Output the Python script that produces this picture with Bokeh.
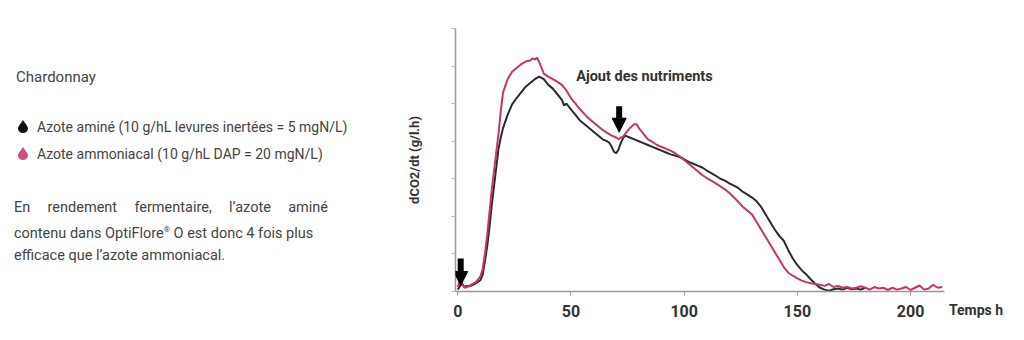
from bokeh.plotting import figure
from bokeh.models import Div, Label, Arrow, NormalHead, FixedTicker, Range1d
from bokeh.layouts import row
from bokeh.embed import file_html
from bokeh.resources import INLINE

# --- data ---
t_amine = [0, 1, 2, 3, 4, 5, 6, 8, 10, 11, 12, 13, 14, 15, 16, 17, 18, 19, 20, 22, 24, 26, 28, 30, 32, 34, 36, 38, 40,
           42, 44, 46, 47, 48, 50, 52, 54, 56, 58, 60, 62, 64, 66, 67, 68, 69, 70, 71, 72, 73, 74, 75, 76, 78, 80, 82,
           84, 86, 88, 90, 92, 94, 96, 98, 100, 102, 104, 106, 108, 110, 112, 114, 116, 118, 120, 122, 124, 126, 128,
           130, 132, 134, 136, 138, 140, 142, 144, 146, 148, 150, 152, 154, 156, 158, 160, 162, 164, 166, 168, 170,
           172, 174, 176, 178, 180]
v_amine = [0.05, 0.15, 0.2, 0.12, 0.15, 0.14, 0.16, 0.22, 0.3, 0.45, 0.8, 1.2, 1.7, 2.3, 2.8, 3.3, 3.8, 4.1, 4.35, 4.7,
           4.98, 5.15, 5.3, 5.45, 5.55, 5.65, 5.72, 5.65, 5.5, 5.4, 5.25, 5.1, 4.95, 5.0, 4.85, 4.7, 4.55, 4.45, 4.35,
           4.25, 4.15, 4.05, 4.0, 3.95, 3.85, 3.72, 3.68, 3.78, 3.95, 4.08, 4.15, 4.12, 4.1, 4.05, 4.0, 3.95, 3.9, 3.85,
           3.8, 3.75, 3.7, 3.65, 3.62, 3.58, 3.52, 3.45, 3.4, 3.35, 3.3, 3.22, 3.15, 3.08, 3.0, 2.95, 2.88, 2.82, 2.75,
           2.65, 2.58, 2.5, 2.4, 2.25, 2.05, 1.85, 1.65, 1.48, 1.35, 1.1, 0.88, 0.7, 0.56, 0.45, 0.32, 0.2, 0.1, 0.05,
           0.02, 0.06, 0.08, 0.05, 0.1, 0.06, 0.08, 0.05, 0.1]

t_ammo = [0, 1, 2, 3, 4, 5, 6, 8, 10, 11, 12, 13, 14, 15, 16, 17, 18, 19, 20, 22, 24, 26, 28, 30, 32, 33, 34, 35, 36,
          37, 38, 40, 42, 44, 46, 48, 50, 52, 54, 56, 58, 60, 62, 64, 66, 68, 70, 71, 72, 73, 74, 76, 78, 79, 80, 82,
          84, 86, 88, 90, 92, 94, 96, 98, 100, 102, 104, 106, 108, 110, 112, 114, 116, 118, 120, 122, 124, 126, 128,
          130, 132, 134, 136, 138, 140, 142, 144, 146, 148, 150, 152, 154, 156, 158, 160, 162, 164, 166, 168, 170,
          172, 174, 176, 178, 180, 182, 184, 186, 188, 190, 192, 194, 196, 198, 200, 202, 204, 206, 208, 210, 212, 214]
v_ammo = [0.12, 0.3, 0.2, 0.1, 0.12, 0.15, 0.18, 0.25, 0.4, 0.6, 1.0, 1.5, 2.1, 2.7, 3.2, 3.7, 4.2, 4.8, 5.3, 5.65,
          5.85, 5.95, 6.05, 6.12, 6.15, 6.2, 6.18, 6.22, 6.1, 5.95, 5.8, 5.72, 5.65, 5.58, 5.5, 5.35, 5.15, 5.0, 4.85,
          4.72, 4.6, 4.5, 4.4, 4.3, 4.22, 4.15, 4.1, 4.05, 4.1, 4.12, 4.2, 4.35, 4.45, 4.45, 4.35, 4.2, 4.05, 3.98, 3.9,
          3.85, 3.8, 3.75, 3.68, 3.6, 3.5, 3.4, 3.3, 3.2, 3.1, 3.02, 2.95, 2.88, 2.8, 2.72, 2.62, 2.5, 2.38, 2.25, 2.15,
          2.05, 1.85, 1.65, 1.45, 1.25, 1.05, 0.85, 0.65, 0.5, 0.42, 0.35, 0.29, 0.25, 0.22, 0.2, 0.18, 0.15, 0.2,
          0.12, 0.15, 0.1, 0.12, 0.08, 0.1, 0.14, 0.1, 0.05, 0.12, 0.08, 0.1, 0.04, 0.1, 0.05, 0.08, 0.12, 0.04, 0.1,
          0.16, 0.05, 0.08, 0.18, 0.1, 0.12]

x_ticks = [0, 50, 100, 150, 200]
y_ticks = [0, 1, 2, 3, 4, 5, 6, 7]

BLACK = "#2b2b2b"
PINK = "#c8326e"
FONT = "Roboto"
TXT = "#333333"

p = figure(width=555, height=340, output_backend="svg", toolbar_location=None,
           x_range=Range1d(-1, 215), y_range=Range1d(0, 7),
           min_border_left=60, min_border_right=6, min_border_top=28, min_border_bottom=49,
           margin=(0, 0, 0, 0))
p.outline_line_color = None
p.grid.grid_line_color = None
p.background_fill_color = "white"
p.border_fill_color = "white"

p.line(t_amine, v_amine, line_color=BLACK, line_width=2)
p.line(t_ammo, v_ammo, line_color=PINK, line_width=2)

xa = p.xaxis[0]
xa.ticker = FixedTicker(ticks=x_ticks)
xa.minor_tick_line_color = None
xa.major_tick_in = 0
xa.major_tick_out = 4
xa.axis_line_color = "#999999"
xa.axis_line_width = 1.5
xa.major_tick_line_color = "#999999"
xa.major_label_standoff = 9
xa.major_label_text_font = FONT
xa.major_label_text_font_style = "bold"
xa.major_label_text_font_size = "16px"
xa.major_label_text_color = TXT

ya = p.yaxis[0]
ya.ticker = FixedTicker(ticks=y_ticks)
ya.major_label_overrides = {t: "" for t in y_ticks}
ya.minor_tick_line_color = None
ya.major_tick_in = 0
ya.major_tick_out = 4
ya.major_label_standoff = 0
ya.axis_line_color = "#999999"
ya.axis_line_width = 1.5
ya.major_tick_line_color = "#bbbbbb"
ya.axis_label = "dCO2/dt (g/l.h)"
ya.axis_label_standoff = 30
ya.axis_label_text_font = FONT
ya.axis_label_text_font_style = "bold"
ya.axis_label_text_font_size = "13px"
ya.axis_label_text_color = TXT

p.add_layout(Label(x=52.3, y=5.73, text="Ajout des nutriments", text_font=FONT, text_font_style="bold",
                   text_font_size="14.5px", text_color=TXT, text_baseline="middle", text_align="left"))

for (xa_, y0, y1) in [(1.3, 0.88, 0.16), (71.3, 4.93, 4.24)]:
    p.add_layout(Arrow(x_start=xa_, y_start=y0, x_end=xa_, y_end=y1, line_width=6, line_color="black",
                       end=NormalHead(size=14, fill_color="black", line_color="black", line_width=1)))

drop = ('<svg width="10" height="13" viewBox="0 0 10 13" style="position:absolute;left:{x}px;top:{y}px">'
        '<path d="M5 0 C4 2 0 6 0 8.5 A5 4.5 0 0 0 10 8.5 C10 6 6 2 5 0Z" fill="{c}"/></svg>')

html = f"""
<div style="position:relative;width:395px;height:340px;font-family:Roboto, 'Liberation Sans', sans-serif;color:#444;background:white;">
<div style="position:absolute;left:16px;top:68px;font-size:15px;line-height:18px;white-space:nowrap;">Chardonnay</div>
{drop.format(x=18, y=120, c='#111111')}
<div style="position:absolute;left:37px;top:118px;font-size:14px;line-height:18px;white-space:nowrap;">Azote aminé (10 g/hL levures inertées = 5 mgN/L)</div>
{drop.format(x=18, y=147, c='#c8507e')}
<div style="position:absolute;left:37px;top:145px;font-size:14px;line-height:18px;white-space:nowrap;">Azote ammoniacal (10 g/hL DAP = 20 mgN/L)</div>
<div style="position:absolute;left:14px;top:197px;width:314px;font-size:14.5px;line-height:22px;">
<div style="text-align:justify;text-align-last:justify;white-space:nowrap;">En rendement fermentaire, l’azote aminé</div>
<div style="white-space:nowrap;">contenu dans OptiFlore<sup style="font-size:8px;">®</sup> O est donc 4 fois plus</div>
<div style="white-space:nowrap;">efficace que l’azote ammoniacal.</div>
</div>
</div>
"""
d = Div(text=html, width=395, height=340, margin=(0, 0, 0, 0))

right_html = """
<div style="position:relative;width:74px;height:340px;background:white;">
<div style="position:absolute;left:-1px;top:301px;font-family:Roboto, sans-serif;font-weight:bold;font-size:14px;line-height:18px;color:#333;white-space:nowrap;">Temps h</div>
</div>
"""
d2 = Div(text=right_html, width=74, height=340, margin=(0, 0, 0, 0))

layout = row(d, p, d2, spacing=0)
open("out.html", "w").write(file_html(layout, INLINE))
